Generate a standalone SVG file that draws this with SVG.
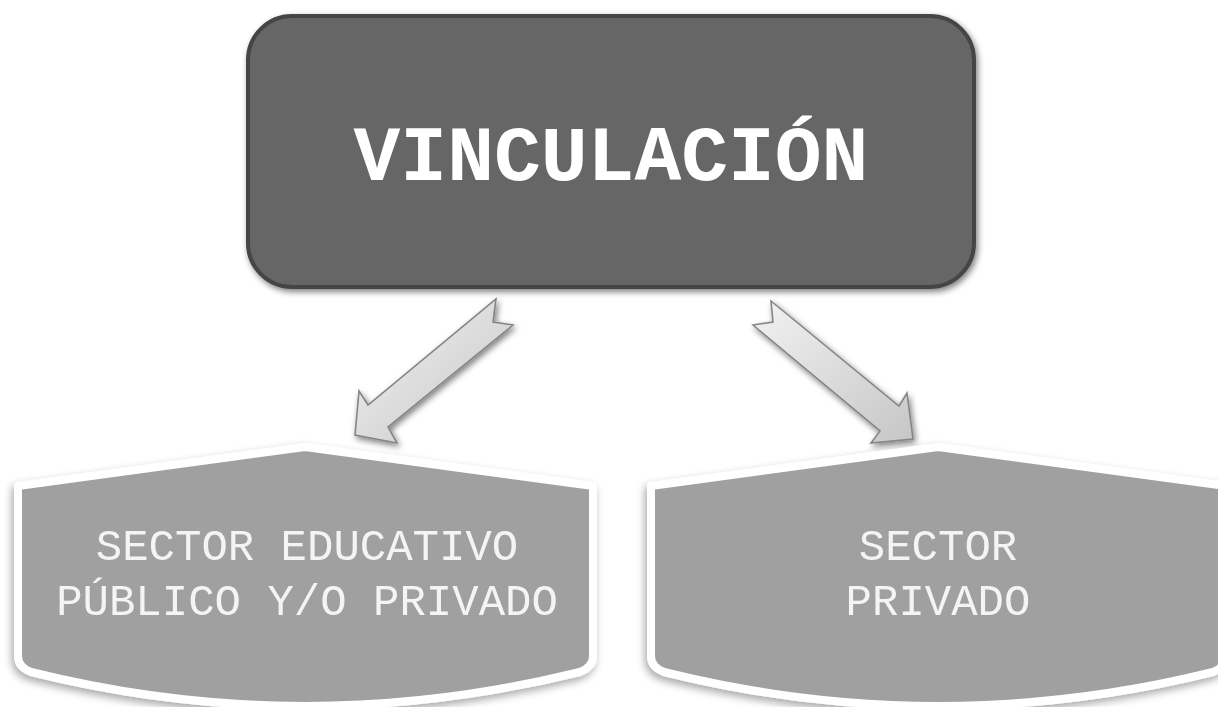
<svg xmlns="http://www.w3.org/2000/svg" width="1218" height="707" viewBox="0 0 1218 707">
<style>
.mono{font-family:"Courier New","Nimbus Mono PS","FreeMono",Courier,"Liberation Mono",monospace;text-anchor:middle}
.title{font-size:78px;font-weight:bold;fill:#ffffff}
.lbl{font-size:44px;fill:#f4f4f4}
.sect{fill:#a0a0a0;stroke:#ffffff;stroke-width:8;stroke-linejoin:round}
.arr{fill:url(#ag);stroke:#858585;stroke-width:1.6;stroke-linejoin:miter}
</style>
<defs>
<linearGradient id="ag" x1="0" y1="0" x2="1" y2="1">
<stop offset="0" stop-color="#f2f2f2"/>
<stop offset="1" stop-color="#c6c6c6"/>
</linearGradient>
<filter id="sh" x="-10%" y="-10%" width="130%" height="130%">
<feGaussianBlur in="SourceAlpha" stdDeviation="3"/>
<feOffset dx="2" dy="3" result="b"/>
<feComponentTransfer><feFuncA type="linear" slope="0.5"/></feComponentTransfer>
<feMerge><feMergeNode/><feMergeNode in="SourceGraphic"/></feMerge>
</filter>
<filter id="sh2" x="-10%" y="-10%" width="130%" height="130%">
<feGaussianBlur in="SourceAlpha" stdDeviation="4"/>
<feOffset dx="-2" dy="4" result="b"/>
<feComponentTransfer><feFuncA type="linear" slope="0.35"/></feComponentTransfer>
<feMerge><feMergeNode/><feMergeNode in="SourceGraphic"/></feMerge>
</filter>
</defs>
<rect width="1218" height="707" fill="#ffffff"/>
<g id="node-vinculacion" filter="url(#sh)">
<rect x="248" y="16" width="726" height="271" rx="44" ry="44" fill="#666666" stroke="#454545" stroke-width="4"/>
<text class="mono title" x="611" y="180">VINCULACIÓN</text>
</g>
<g id="connectors" filter="url(#sh)">
<polygon class="arr" points="496,299 493,322 513,325 388,427 397,443 355,435 359,391 368,405"/>
<polygon class="arr" points="771,301 773,322 753,325 880,431 871,443 913,439 907,393 899,406"/>
</g>
<g id="node-sector-educativo" filter="url(#sh2)">
<path class="sect" d="M18,486 L305,447 L593,486 L593,656 Q593,667 580,672 Q305,740 31,672 Q18,667 18,656 Z"/>
<text class="mono lbl" x="307" y="560">SECTOR EDUCATIVO</text>
<text class="mono lbl" x="307" y="615">PÚBLICO Y/O PRIVADO</text>
</g>
<g id="node-sector-privado" filter="url(#sh2)">
<path class="sect" d="M651,486 L938,447 L1226,486 L1226,656 Q1226,667 1213,672 Q938,740 664,672 Q651,667 651,656 Z"/>
<text class="mono lbl" x="938" y="560">SECTOR</text>
<text class="mono lbl" x="938" y="615">PRIVADO</text>
</g>
</svg>
